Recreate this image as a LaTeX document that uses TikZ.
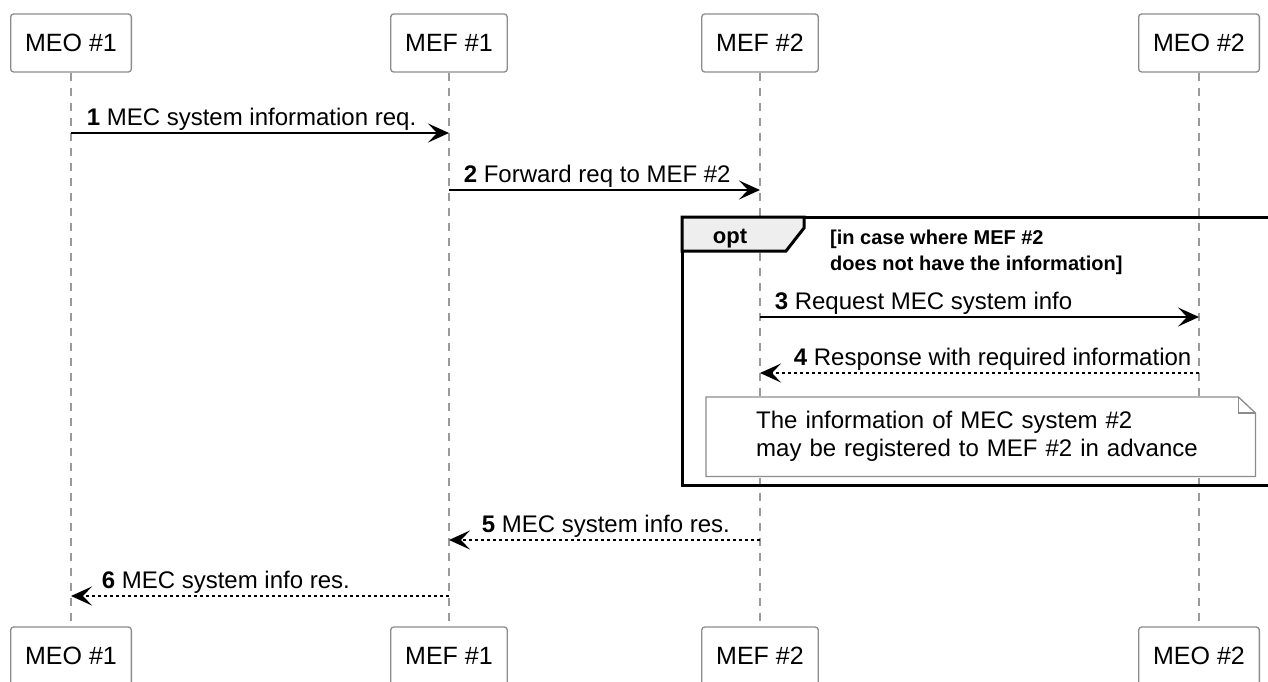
\documentclass[tikz,border=0pt]{standalone}
\usepackage{fontspec}
\setmainfont{Liberation Sans}
\usepackage{tikz}
\usetikzlibrary{arrows.meta, positioning}
\usepackage{xcolor}
\definecolor{mBoxGray}{HTML}{8C8C8C}
\definecolor{mLifeGray}{HTML}{9A9A9A}
\definecolor{mTabGray}{HTML}{EEEEEE}

\begin{document}
\begin{tikzpicture}[x=1pt, y=-1pt, >={Stealth[length=21pt, width=19pt, inset=9pt]},
    party/.style={draw=mBoxGray, line width=1.3pt, rounded corners=3pt, fill=white, minimum height=58pt, inner xsep=14.5pt, font=\fontsize{25}{30}\selectfont},
    life/.style={draw=mLifeGray, line width=1.3pt, dash pattern=on 8pt off 7pt},
    msg/.style={->, line width=1.6pt},
    reply/.style={msg, dash pattern=on 3pt off 3pt},
    lbl/.style={font=\fontsize{24}{28}\selectfont, inner sep=0pt},
    notebox/.style={fill=white, minimum height=79pt, text width=449pt, inner xsep=50pt, inner ysep=0pt, align=left, font=\fontsize{24}{28}\selectfont}]
  \useasboundingbox (0,0) rectangle (1268,682);
  \clip (0,0) rectangle (1268,682);
  \node[party] (meo1) at (71,43) {MEO \#1};
  \node[party] (mef1) at (449,43) {MEF \#1};
  \node[party] (mef2) at (760,43) {MEF \#2};
  \node[party] (meo2) at (1199,43) {MEO \#2};
  \node[party] (meo1b) at (71,656) {MEO \#1};
  \node[party] (mef1b) at (449,656) {MEF \#1};
  \node[party] (mef2b) at (760,656) {MEF \#2};
  \node[party] (meo2b) at (1199,656) {MEO \#2};
  \draw[life] (meo1) -- (meo1b);
  \draw[life] (mef1) -- (mef1b);
  \draw[life] (mef2) -- (mef2b);
  \draw[life] (meo2) -- (meo2b);
  \coordinate (y1) at (0,133);
  \coordinate (y2) at (0,190);
  \coordinate (y3) at (0,317);
  \coordinate (y4) at (0,373);
  \coordinate (y5) at (0,540);
  \coordinate (y6) at (0,596);
  \draw[msg] (meo1 |- y1) -- node[lbl, pos=0, anchor=base west, xshift=15pt, yshift=8pt] {\textbf{1} MEC system information req.} (mef1 |- y1);
  \draw[msg] (mef1 |- y2) -- node[lbl, pos=0, anchor=base west, xshift=14pt, yshift=8pt] {\textbf{2} Forward req to MEF \#2} (mef2 |- y2);
  \draw[line width=3pt] (682,217) rectangle (1280,485);
  \filldraw[fill=mTabGray, line width=3pt] (682,217) -- (804,217) -- (804,228) -- (786,251) -- (682,251) -- cycle;
  \node[font=\bfseries\fontsize{22}{26}\selectfont, anchor=base, inner sep=0pt] (opt) at (730,243) {opt};
  \node[font=\bfseries\fontsize{20}{26}\selectfont, anchor=base west, align=left, inner sep=0pt] (guard) at (830,270) {[in case where MEF \#2\\does not have the information]};
  \draw[msg] (mef2 |- y3) -- node[lbl, pos=0, anchor=base west, xshift=14pt, yshift=8pt] {\textbf{3} Request MEC system info} (meo2 |- y3);
  \draw[reply] (meo2 |- y4) -- node[lbl, pos=1, anchor=base west, xshift=33pt, yshift=8pt] {\textbf{4} Response with required information} (mef2 |- y4);
  \node[notebox, anchor=north west] (note) at (706,397) {The information of MEC system \#2\\may be registered to MEF \#2 in advance};
  \draw[draw=mBoxGray, line width=1.3pt] (note.north west) -- ([xshift=-17pt]note.north east) -- ([yshift=-16pt]note.north east) -- (note.south east) -- (note.south west) -- cycle;
  \draw[draw=mBoxGray, line width=1.3pt] ([xshift=-17pt]note.north east) -- ([xshift=-17pt, yshift=-16pt]note.north east) -- ([yshift=-16pt]note.north east);
  \draw[reply] (mef2 |- y5) -- node[lbl, pos=1, anchor=base west, xshift=32pt, yshift=8pt] {\textbf{5} MEC system info res.} (mef1 |- y5);
  \draw[reply] (mef1 |- y6) -- node[lbl, pos=1, anchor=base west, xshift=30pt, yshift=8pt] {\textbf{6} MEC system info res.} (meo1 |- y6);
\end{tikzpicture}
\end{document}
